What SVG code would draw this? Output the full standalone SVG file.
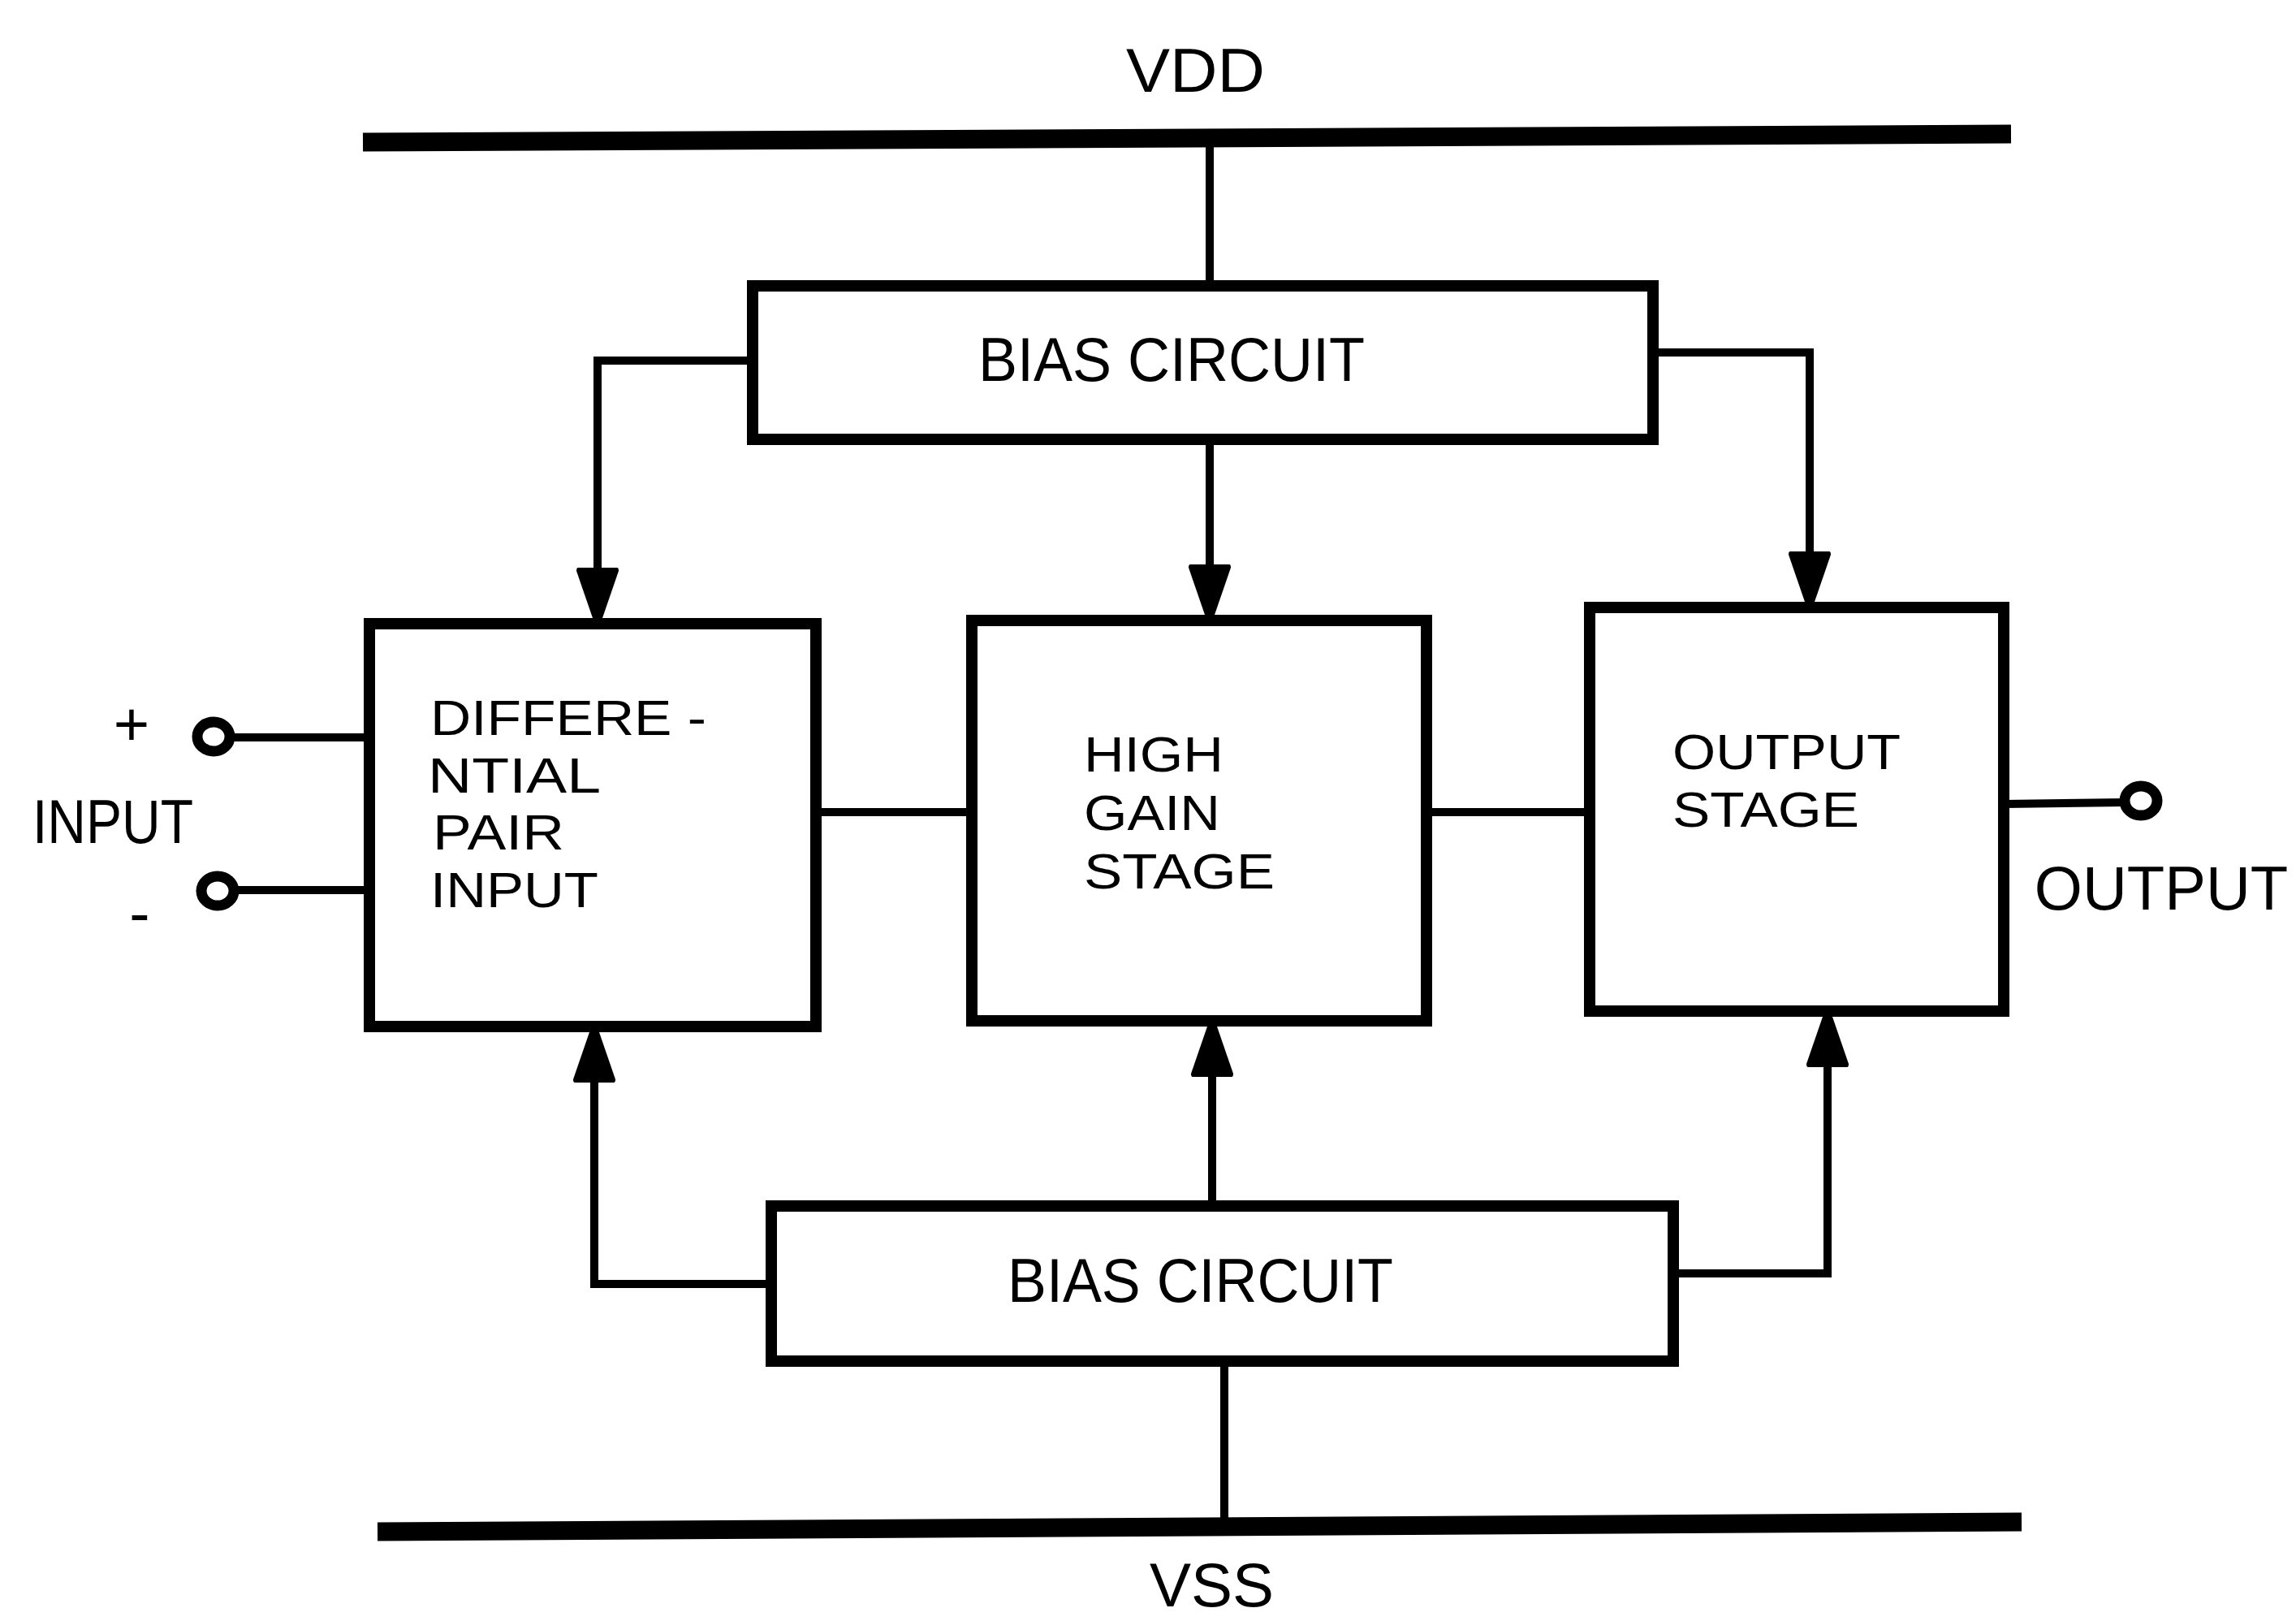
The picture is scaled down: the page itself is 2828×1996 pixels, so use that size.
<svg xmlns="http://www.w3.org/2000/svg" width="2828" height="1996" viewBox="0 0 2828 1996">
<style>
.box{fill:#fff;stroke:#000;stroke-width:14}
.bar{stroke:#000;stroke-width:23;fill:none}
.wire{stroke:#000;stroke-width:10;fill:none}
.term{fill:none;stroke:#000;stroke-width:13}
text{font-family:"Liberation Sans",Arial,sans-serif;font-size:76px;fill:#000}
.stk{font-size:62px}
</style>
<defs>
<marker id="arr" viewBox="0 0 62 52" refX="62" refY="26" markerWidth="62" markerHeight="52" markerUnits="userSpaceOnUse" orient="auto">
<path d="M0,2 Q0,0 4,0 L62,20 L62,32 L4,52 Q0,52 0,50 z" fill="#000"/>
</marker>
</defs>
<rect width="2828" height="1996" fill="#fff"/>
<g id="rails">
<line class="bar" x1="447" y1="175" x2="2477" y2="165"/>
<line class="bar" x1="465" y1="1886" x2="2490" y2="1874"/>
<text x="1387" y="113" textLength="171" lengthAdjust="spacingAndGlyphs">VDD</text>
<text x="1416" y="1978" font-size="70" textLength="153" lengthAdjust="spacingAndGlyphs">VSS</text>
</g>
<g id="connectors">
<line class="wire" x1="1490" y1="170" x2="1490" y2="352"/>
<polyline class="wire" points="927,444 736,444 736,761" marker-end="url(#arr)"/>
<line class="wire" x1="1490" y1="541" x2="1490" y2="757" marker-end="url(#arr)"/>
<polyline class="wire" points="2036,434 2229,434 2229,741" marker-end="url(#arr)"/>
<line class="wire" x1="1005" y1="1000" x2="1197" y2="1000"/>
<line class="wire" x1="1757" y1="1000" x2="1958" y2="1000"/>
<line class="wire" x1="2468" y1="990" x2="2617" y2="988"/>
<line class="wire" x1="282" y1="908" x2="455" y2="908"/>
<line class="wire" x1="287" y1="1096" x2="455" y2="1096"/>
<polyline class="wire" points="950,1581 732,1581 732,1271" marker-end="url(#arr)"/>
<line class="wire" x1="1493" y1="1485" x2="1493" y2="1264" marker-end="url(#arr)"/>
<polyline class="wire" points="2062,1568 2251,1568 2251,1252" marker-end="url(#arr)"/>
<line class="wire" x1="1508" y1="1676" x2="1508" y2="1880"/>
</g>
<g id="bias-top">
<rect class="box" x="927" y="352" width="1109" height="189"/>
<text x="1205" y="469" textLength="476" lengthAdjust="spacingAndGlyphs">BIAS CIRCUIT</text>
</g>
<g id="bias-bottom">
<rect class="box" x="950" y="1485" width="1111" height="191"/>
<text x="1241" y="1603" textLength="475" lengthAdjust="spacingAndGlyphs">BIAS CIRCUIT</text>
</g>
<g id="diff-pair">
<rect class="box" x="455" y="768" width="550" height="496"/>
<text class="stk" x="530" y="905" textLength="340" lengthAdjust="spacingAndGlyphs">DIFFERE -</text>
<text class="stk" x="527" y="976" textLength="213" lengthAdjust="spacingAndGlyphs">NTIAL</text>
<text class="stk" x="533" y="1046" textLength="162" lengthAdjust="spacingAndGlyphs">PAIR</text>
<text class="stk" x="530" y="1117" textLength="207" lengthAdjust="spacingAndGlyphs">INPUT</text>
</g>
<g id="high-gain">
<rect class="box" x="1197" y="764" width="560" height="493"/>
<text class="stk" x="1335" y="950" textLength="172" lengthAdjust="spacingAndGlyphs">HIGH</text>
<text class="stk" x="1335" y="1022" textLength="168" lengthAdjust="spacingAndGlyphs">GAIN</text>
<text class="stk" x="1335" y="1094" textLength="235" lengthAdjust="spacingAndGlyphs">STAGE</text>
</g>
<g id="output-stage">
<rect class="box" x="1958" y="748" width="510" height="497"/>
<text class="stk" x="2060" y="947" textLength="281" lengthAdjust="spacingAndGlyphs">OUTPUT</text>
<text class="stk" x="2060" y="1018" textLength="230" lengthAdjust="spacingAndGlyphs">STAGE</text>
</g>
<g id="input-terminals">
<ellipse class="term" cx="263" cy="907" rx="20" ry="18"/>
<ellipse class="term" cx="268" cy="1097" rx="20" ry="18"/>
<text x="162" y="918" text-anchor="middle" font-size="64">+</text>
<text x="172" y="1150" text-anchor="middle">-</text>
<text x="40" y="1038" textLength="198" lengthAdjust="spacingAndGlyphs">INPUT</text>
</g>
<g id="output-terminal">
<ellipse class="term" cx="2637" cy="986" rx="20" ry="18"/>
<text x="2662" y="1120" font-size="66" text-anchor="middle">OUTPUT</text>
</g>
</svg>
